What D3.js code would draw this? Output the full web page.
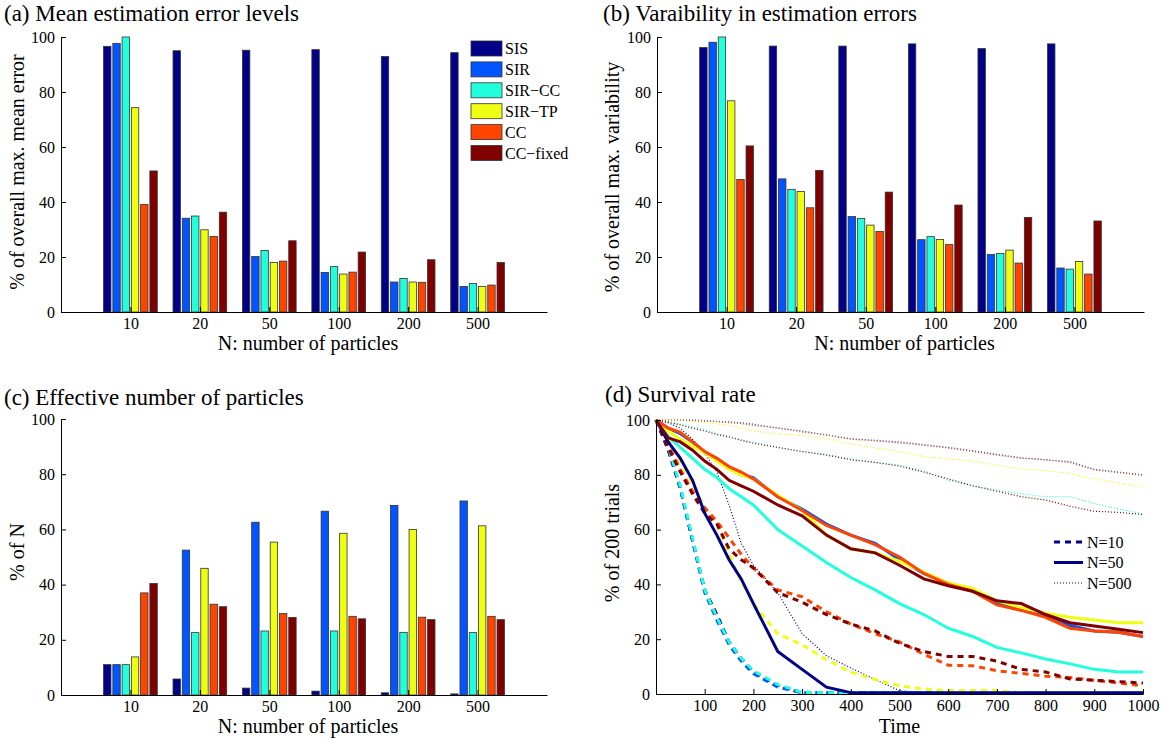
<!DOCTYPE html>
<html lang="en">
<head>
<meta charset="utf-8">
<title>Particle filter comparison</title>
<script src="https://cdn.jsdelivr.net/npm/d3@7"></script>
<style>
  body { margin: 0; background: #fff; }
  svg, svg text { font-family: "Liberation Serif", "DejaVu Serif", serif; fill: #000; }
  .title { font-size: 23px; }
  .axis-title { font-size: 20px; text-anchor: middle; }
  .axis text { font-size: 16px; }
  .axis path, .axis line { stroke: #000; stroke-width: 1; }
  .legend text { font-size: 16px; }
</style>
</head>
<body>
<div id="chart"></div>
<script>
// ---- data ----
var categories = ["10", "20", "50", "100", "200", "500"];
var methods = ["SIS", "SIR", "SIR\u2212CC", "SIR\u2212TP", "CC", "CC\u2212fixed"];
var colors = ["#000088", "#0055ff", "#22ffdd", "#eeff11", "#ff4400", "#800000"];

// (a) mean estimation error, rows = methods, cols = categories
var meanError = [
  [96.6, 95.0, 95.2, 95.4, 92.9, 94.3],
  [97.7, 34.1, 20.2, 14.4, 10.9, 9.3],
  [100, 34.9, 22.4, 16.5, 12.2, 10.4],
  [74.3, 29.9, 18.0, 13.8, 10.9, 9.3],
  [39.1, 27.5, 18.5, 14.5, 10.8, 9.8],
  [51.3, 36.3, 25.9, 21.8, 19.0, 18.0]
];
// (b) variability in estimation errors
var variability = [
  [96.2, 96.7, 96.7, 97.5, 95.8, 97.5],
  [98.1, 48.4, 34.7, 26.3, 20.9, 16.0],
  [100, 44.6, 34.0, 27.4, 21.3, 15.6],
  [76.8, 43.8, 31.6, 26.4, 22.5, 18.4],
  [48.2, 37.9, 29.3, 24.5, 17.8, 13.8],
  [60.4, 51.5, 43.6, 38.9, 34.4, 33.1]
];
// (c) effective number of particles
var effective = [
  [11.0, 5.8, 2.5, 1.4, 0.8, 0.4],
  [11.0, 52.5, 62.6, 66.6, 68.7, 70.3],
  [11.0, 22.6, 23.2, 23.2, 22.7, 22.6],
  [13.8, 45.9, 55.4, 58.6, 60.0, 61.3],
  [37.0, 32.9, 29.5, 28.5, 28.2, 28.5],
  [40.4, 32.0, 28.1, 27.6, 27.3, 27.3]
];

// (d) survival rate
var timeSteps = [0, 25, 50, 75, 100, 125, 150, 175, 200, 250, 300, 350, 400, 450, 500,
                 550, 600, 650, 700, 750, 800, 850, 900, 950, 1000];
var survN10 = [
  [100, 89, 75, 56, 38, 29, 19, 13, 8, 3.2, 0.5, 0.5, 0.5, 0.5, 0.5, 0.5, 0.5, 0.5, 0.5, 0.5, 0.5, 0.5, 0.5, 0.5, 0.5],
  [100, 90, 75, 56, 37, 27, 18, 12, 7.5, 2.5, 0.5, 0.5, 0.5, 0.5, 0.5, 0.5, 0.5, 0.5, 0.5, 0.5, 0.5, 0.5, 0.5, 0.5, 0.5],
  [100, 90.5, 76, 57, 38, 28, 19, 13, 8.5, 3.5, 0.6, 0.5, 0.5, 0.5, 0.5, 0.5, 0.5, 0.5, 0.5, 0.5, 0.5, 0.5, 0.5, 0.5, 0.5],
  [100, 93, 85, 77, 68, 62, 51, 41, 33, 22, 18, 12.5, 8, 5.3, 3, 1.8, 1.3, 1.3, 1.3, 0.5, 0.5, 0.5, 0.5, 0.5, 0.5],
  [100, 91, 82, 74, 68, 63, 57, 51, 46, 38, 35.5, 30, 25.5, 22, 19, 14.5, 10.5, 10.3, 8.5, 7.5, 6.5, 6, 5, 4, 3],
  [100, 90, 81, 73, 66, 62, 53, 49, 46, 37, 33.5, 29, 25.5, 23, 18.5, 15.5, 13.7, 13.7, 12, 9, 8, 5.5, 5, 4.5, 4]
];
var survN50 = [
  [100, 92, 86, 78, 66, 58, 49, 42, 33, 15.5, 9, 2.5, 0.5, 0.5, 0.5, 0.5, 0.5, 0.5, 0.5, 0.5, 0.5, 0.5, 0.5, 0.5, 0.5],
  [100, 97, 95, 92, 88, 86, 82.5, 80, 79, 72, 67.5, 62, 58, 55, 49, 44, 40.5, 38, 33, 31, 29, 25, 23, 22.5, 21],
  [100, 94, 90, 86, 82, 79, 75, 72, 69, 60, 54, 48, 42.5, 38, 33, 29, 24, 21, 17, 15, 12.8, 11, 9, 8, 8],
  [100, 96, 93, 90.5, 88, 85, 82, 80, 78.5, 72.5, 67, 58, 53, 51.5, 48.5, 44.5, 40.5, 38.5, 34, 31.5, 29.5, 28, 27, 26, 26],
  [100, 97, 95.5, 92, 88.5, 86, 83, 81, 78.5, 72, 67, 61.5, 58, 54.5, 50, 44, 40, 37.5, 32.5, 30.5, 28, 24, 23, 22.5, 21],
  [100, 93.5, 92, 89, 85, 82, 78, 76, 74, 69, 65, 58, 53, 51.5, 47, 42, 39.5, 37.5, 34, 33, 29, 26, 24.8, 23.6, 22.4]
];
var survN500 = [
  [100, 99, 97, 93, 88, 81, 69, 55, 47, 37, 22, 14, 9.5, 5.3, 1.2, 0.5, 0.5, 0.5, 0.5, 0.5, 0.5, 0.5, 0.5, 0.5, 0.5],
  [100, 100, 100, 100, 99.8, 99.5, 99.3, 99, 98.5, 97, 96, 94.5, 93.2, 92.6, 92, 91, 90, 88.8, 87.5, 86.2, 85.5, 84.8, 82, 81, 80],
  [100, 99.5, 98.5, 97.5, 96.5, 95, 94, 92.8, 92, 90, 88.5, 87.5, 85.8, 84.6, 83.5, 81.5, 78, 76, 74.5, 73, 72, 72, 69.5, 67.5, 65.8],
  [100, 100, 99.8, 99.5, 99, 98.6, 98, 97, 96, 95, 94.3, 93, 91.3, 89.8, 88.5, 86.7, 85.8, 85, 83.5, 82.2, 81.5, 80.5, 78.5, 77, 75.5],
  [100, 100, 100, 99.8, 99.6, 99.4, 99, 98.7, 98, 97.2, 95.6, 94.6, 93, 92.4, 91.6, 90.8, 89.8, 88.5, 87.2, 86, 85.5, 84.5, 81.8, 80.8, 79.8],
  [100, 99.2, 98.2, 97, 96, 94.7, 93.8, 92.6, 91.5, 90, 88.5, 87.2, 85.5, 84.5, 83.2, 81, 78.5, 76, 74, 72, 70.8, 68.5, 66.7, 66.3, 65.5]
];
var yTicks = [0, 20, 40, 60, 80, 100];
var timeTicks = [100, 200, 300, 400, 500, 600, 700, 800, 900, 1000];

// ---- layout ----
var width = 1167, height = 738;
var fontStack = '"Liberation Serif", "DejaVu Serif", serif';

var svg = d3.select("#chart").append("svg")
  .attr("width", width)
  .attr("height", height)
  .attr("font-family", fontStack);

function styleAxis(sel) {
  sel.attr("font-family", fontStack).attr("font-size", 16);
}

function barPanel(box, values, title, titleX, titleY, ylabel, ylabelX, ylabelY, showLegend) {
  var x = d3.scaleLinear().domain([0, 7]).range([box.left, box.right]);
  var y = d3.scaleLinear().domain([0, 100]).range([box.bottom, box.top]);
  var step = x(1) - x(0);
  var inner = d3.scaleBand()
    .domain(d3.range(methods.length))
    .range([-0.4 * step, 0.4 * step])
    .paddingInner(0.2)
    .paddingOuter(0.1);

  var g = svg.append("g");

  g.append("g")
    .attr("class", "axis")
    .attr("transform", "translate(" + box.left + ",0)")
    .call(d3.axisLeft(y).tickValues(yTicks).tickSizeInner(-5).tickSizeOuter(0).tickPadding(6))
    .call(styleAxis);

  categories.forEach(function(c, ci) {
    methods.forEach(function(m, mi) {
      var v = values[mi][ci];
      g.append("rect")
        .attr("x", x(ci + 1) + inner(mi))
        .attr("y", y(v))
        .attr("width", inner.bandwidth())
        .attr("height", y(0) - y(v))
        .style("fill", colors[mi])
        .style("stroke", "#333")
        .style("stroke-width", 0.8);
    });
  });

  g.append("g")
    .attr("class", "axis")
    .attr("transform", "translate(0," + box.bottom + ")")
    .call(d3.axisBottom(x).tickValues([1, 2, 3, 4, 5, 6])
      .tickFormat(function(d) { return categories[d - 1]; })
      .tickSizeInner(-5).tickSizeOuter(0).tickPadding(6))
    .call(styleAxis);

  g.append("text")
    .attr("class", "title")
    .attr("x", titleX)
    .attr("y", titleY)
    .text(title);

  g.append("text")
    .attr("class", "axis-title")
    .attr("x", (box.left + box.right) / 2 + 4)
    .attr("y", box.bottom + 38)
    .text("N: number of particles");

  g.append("text")
    .attr("class", "axis-title")
    .attr("transform", "translate(" + ylabelX + "," + ylabelY + ") rotate(-90)")
    .attr("dy", "0.35em")
    .text(ylabel);

  if (showLegend) {
    var lg = g.append("g").attr("class", "legend");
    methods.forEach(function(m, i) {
      var cy = 48.5 + i * 20.9;
      lg.append("rect")
        .attr("x", 471).attr("y", cy - 7.5)
        .attr("width", 31).attr("height", 15)
        .style("fill", colors[i])
        .style("stroke", "#333")
        .style("stroke-width", 0.8);
      lg.append("text")
        .attr("x", 505).attr("y", cy)
        .attr("dy", "0.35em")
        .text(m);
    });
  }
}

barPanel({left: 61, right: 547, top: 37, bottom: 312}, meanError,
  "(a) Mean estimation error levels", 4, 21,
  "% of overall max. mean error", 17, 172, true);

barPanel({left: 657, right: 1144, top: 37, bottom: 312}, variability,
  "(b) Varaibility in estimation errors", 603, 21,
  "% of overall max. variability", 612, 177, false);

barPanel({left: 61, right: 547, top: 419, bottom: 695}, effective,
  "(c) Effective number of particles", 4, 405,
  "% of N", 17, 552, false);

// ---- (d) survival rate ----
(function() {
  var box = {left: 656, right: 1143, top: 420, bottom: 694};
  var x = d3.scaleLinear().domain([0, 1000]).range([box.left, box.right]);
  var y = d3.scaleLinear().domain([0, 100]).range([box.bottom, box.top]);
  var g = svg.append("g");

  var line = d3.line()
    .x(function(d, i) { return x(timeSteps[i]); })
    .y(function(d) { return y(d); });

  var styles = [
    {rows: survN500, width: 1.2, dash: "1,2"},
    {rows: survN10, width: 3, dash: "6,5"},
    {rows: survN50, width: 3, dash: null}
  ];

  styles.forEach(function(s) {
    s.rows.forEach(function(row, i) {
      g.append("path")
        .attr("d", line(row))
        .style("fill", "none")
        .style("stroke", colors[i])
        .style("stroke-width", s.width)
        .style("stroke-dasharray", s.dash);
    });
  });

  g.append("g")
    .attr("class", "axis")
    .attr("transform", "translate(" + box.left + ",0)")
    .call(d3.axisLeft(y).tickValues(yTicks).tickSizeInner(-5).tickSizeOuter(0).tickPadding(6))
    .call(styleAxis);

  g.append("g")
    .attr("class", "axis")
    .attr("transform", "translate(0," + box.bottom + ")")
    .call(d3.axisBottom(x).tickValues(timeTicks).tickFormat(d3.format("d"))
      .tickSizeInner(-5).tickSizeOuter(0).tickPadding(6))
    .call(styleAxis);

  g.append("text")
    .attr("class", "title")
    .attr("x", 605)
    .attr("y", 402)
    .text("(d) Survival rate");

  g.append("text")
    .attr("class", "axis-title")
    .attr("x", (box.left + box.right) / 2)
    .attr("y", box.bottom + 39)
    .text("Time");

  g.append("text")
    .attr("class", "axis-title")
    .attr("transform", "translate(612,543) rotate(-90)")
    .attr("dy", "0.35em")
    .text("% of 200 trials");

  // legend
  var legendItems = [
    {label: "N=10", width: 3, dash: "6,5"},
    {label: "N=50", width: 3, dash: null},
    {label: "N=500", width: 1.2, dash: "1,2"}
  ];
  var lg = g.append("g").attr("class", "legend");
  legendItems.forEach(function(d, i) {
    var cy = 542 + i * 20.5;
    lg.append("line")
      .attr("x1", 1054).attr("x2", 1083)
      .attr("y1", cy).attr("y2", cy)
      .style("stroke", colors[0])
      .style("stroke-width", d.width)
      .style("stroke-dasharray", d.dash);
    lg.append("text")
      .attr("x", 1087).attr("y", cy)
      .attr("dy", "0.35em")
      .text(d.label);
  });
})();
</script>
</body>
</html>
